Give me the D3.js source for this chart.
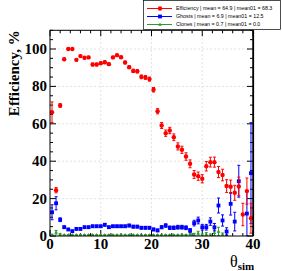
<!DOCTYPE html>
<html><head><meta charset="utf-8">
<script src="https://cdn.jsdelivr.net/npm/d3@7"></script>
<style>body{margin:0;background:#fff;overflow:hidden}</style></head>
<body>
<svg id="c" width="282" height="271"></svg>
<script>
const theta = [0.4,1.2,2.0,2.8,3.6,4.4,5.2,6.0,6.8,7.6,8.4,9.2,10.0,10.8,11.6,12.4,13.2,14.0,14.8,15.6,16.4,17.2,18.0,18.8,19.6,20.4,21.2,22.0,22.8,23.6,24.4,25.2,26.0,26.8,27.6,28.4,29.2,30.0,30.8,31.6,32.4,33.2,34.0,34.8,35.6,36.4,37.2,38.0,38.8,39.6];
const effVals = [66.2,24.5,69.8,94.5,100,100,94.2,96.2,95.3,95.5,91.7,91.7,92.4,92.9,91.9,95.5,96.7,95.6,92.8,90.3,88.3,88.1,85.1,84.8,83.9,78.2,66.7,59.1,55.0,56.4,52.8,47.9,46.1,42.5,38.6,32.9,32.0,30.6,37.3,39.5,39.5,34.2,32.6,26.7,26.3,23.1,26.5,11.5,24.0,9.5];
const effErr = [5.5,1.4,1.0,0.6,0.3,0.3,0.6,0.5,0.6,0.6,0.7,0.7,0.7,0.7,0.7,0.6,0.5,0.6,0.7,0.8,0.9,0.9,1.0,1.0,1.1,1.2,1.4,1.6,1.7,1.7,1.8,1.9,1.9,2.0,2.1,2.1,2.2,2.2,2.5,2.6,2.7,3.0,3.1,3.4,3.6,4.0,5.0,6.0,7.0,8.0];
const ghostTheta = [0.4,1.2,2.0,2.8,3.6,4.4,5.2,6.0,6.8,7.6,8.4,9.2,10.0,10.8,11.6,12.4,13.2,14.0,14.8,15.6,16.4,17.2,18.0,18.8,19.6,20.4,21.2,22.0,22.8,23.6,24.4,25.2,26.0,26.8,27.6,28.4,29.2,30.0,30.8,31.6,32.4,33.2,34.0,34.8,35.6,36.4,37.2,38.8,39.6];
const ghostVals = [12.7,17.5,8.7,4.7,3.5,2.6,3.8,3.8,4.7,4.7,5.2,5.2,5.2,6.0,4.7,5.2,5.2,5.2,5.2,5.6,5.0,5.0,4.4,4.4,4.4,3.5,3.0,4.7,5.6,4.4,4.4,4.7,4.7,4.4,3.0,6.9,8.3,4.7,4.7,7.7,4.7,16.3,8.3,2.4,17.2,7.7,29.3,12.0,33.6];
const ghostErr = [4.0,3.5,1.0,0.7,0.6,0.5,0.6,0.6,0.6,0.6,0.6,0.6,0.6,0.7,0.6,0.6,0.6,0.6,0.6,0.7,0.7,0.7,0.7,0.7,0.7,0.7,0.7,0.8,0.9,0.9,0.9,1.0,1.0,1.0,1.0,1.5,1.8,1.5,1.5,2.0,2.0,4.0,3.0,2.0,6.0,5.0,8.5,12.0,27.0];
const cloneTheta = [0.4,1.2,2.0,2.8,3.6,4.4,5.2,6.0,6.8,7.6,8.4,9.2,10.0,10.8,11.6,12.4,13.2,14.0,14.8,15.6,16.4,17.2,18.0,18.8,19.6,20.4,21.2,22.0,22.8,23.6,24.4,25.2,26.0,26.8,27.6,28.4,29.2,30.0,30.8,31.6,32.4,33.2,34.0,34.8];
const cloneVals = [0.6,2.0,0.8,0.5,0.5,0.5,0.5,0.5,0.5,0.5,0.5,0.5,0.5,0.5,0.5,0.5,0.5,0.5,0.5,0.5,0.5,0.5,0.5,0.5,0.5,0.5,0.5,0.5,0.5,0.5,0.5,0.5,0.5,0.5,1.2,0.8,1.5,0.5,1.0,0.5,1.8,2.5,0.8,1.0];
const cloneErr = [0.3,1.0,0.4,0.2,0.2,0.2,0.2,0.2,0.2,0.2,0.2,0.2,0.2,0.2,0.2,0.2,0.2,0.2,0.2,0.2,0.2,0.2,0.2,0.2,0.2,0.2,0.2,0.2,0.2,0.2,0.2,0.2,0.2,0.3,0.8,0.6,1.0,0.5,0.8,0.5,1.5,2.2,0.8,1.0];
const xTicks = [0,10,20,30,40];
const yTicks = [0,20,40,60,80,100];
const legendLabels = ["Efficiency | mean =  64.9 | mean01 =  68.3","Ghosts | mean =  6.9 | mean01 =  12.5","Clones | mean =  0.7 | mean01 =  0.0"];

const svg = d3.select("#c");
const L=50,R=253,T=30.3,B=236;
const x = d3.scaleLinear().domain([0,40]).range([L,R]);
const y = d3.scaleLinear().domain([0,110]).range([B,T]);
const red="#ff0000", blue="#0000ff", green="#2f9a2f";

// grid
const g = svg.append("g");
g.selectAll("line.gx").data(xTicks.slice(1,-1)).enter().append("line")
 .attr("x1",d=>x(d)).attr("x2",d=>x(d)).attr("y1",B).attr("y2",T)
 .attr("stroke","#dcdcdc").attr("stroke-width",0.8).attr("stroke-dasharray","2,2");
g.selectAll("line.gy").data(yTicks.slice(1)).enter().append("line")
 .attr("y1",d=>y(d)).attr("y2",d=>y(d)).attr("x1",L).attr("x2",R)
 .attr("stroke","#dcdcdc").attr("stroke-width",0.8).attr("stroke-dasharray","2,2");

// ticks
const tk = svg.append("g").attr("stroke","#000").attr("stroke-width",1);
const xMinor = d3.range(0,40.01,2), yMinor = d3.range(0,110.01,5);
xMinor.forEach(v=>{
  const len = (v%10===0)?6:3;
  tk.append("line").attr("x1",x(v)).attr("x2",x(v)).attr("y1",B).attr("y2",B-len);
  tk.append("line").attr("x1",x(v)).attr("x2",x(v)).attr("y1",T).attr("y2",T+len);
});
yMinor.forEach(v=>{
  const len = (v%20===0)?6:3;
  tk.append("line").attr("y1",y(v)).attr("y2",y(v)).attr("x1",L).attr("x2",L+len);
  tk.append("line").attr("y1",y(v)).attr("y2",y(v)).attr("x1",R).attr("x2",R-len);
});

// data
const clip = svg.append("clipPath").attr("id","pc").append("rect").attr("x",L).attr("y",T).attr("width",R-L).attr("height",B-T);
const dg = svg.append("g").attr("clip-path","url(#pc)");
function series(xs, vs, es, col, shape){
  const s = dg.append("g");
  xs.forEach((t,i)=>{
    const cx=x(t), cy=y(vs[i]), y1=y(vs[i]+es[i]), y2=y(Math.max(0,vs[i]-es[i]));
    s.append("line").attr("x1",cx).attr("x2",cx).attr("y1",y1).attr("y2",y2).attr("stroke",col).attr("stroke-width",1);
    s.append("line").attr("x1",cx-1.5).attr("x2",cx+1.5).attr("y1",y1).attr("y2",y1).attr("stroke",col).attr("stroke-width",1);
    s.append("line").attr("x1",cx-1.5).attr("x2",cx+1.5).attr("y1",y2).attr("y2",y2).attr("stroke",col).attr("stroke-width",1);
  });
  xs.forEach((t,i)=>drawMarker(s,x(t),y(vs[i]),col,shape));
}
function drawMarker(s,cx,cy,col,shape){
  if(shape==="circle") s.append("circle").attr("cx",cx).attr("cy",cy).attr("r",2.2).attr("fill",col);
  else if(shape==="square") s.append("rect").attr("x",cx-1.9).attr("y",cy-1.9).attr("width",3.8).attr("height",3.8).attr("fill",col);
  else s.append("path").attr("d",`M${cx},${cy-2}L${cx+1.8},${cy+1.3}L${cx-1.8},${cy+1.3}Z`).attr("fill",col);
}
series(cloneTheta, cloneVals, cloneErr, green, "tri");
series(ghostTheta, ghostVals, ghostErr, blue, "square");
series(theta, effVals, effErr, red, "circle");

// frame
svg.append("rect").attr("x",L).attr("y",T).attr("width",R-L).attr("height",B-T).attr("fill","none").attr("stroke","#000").attr("stroke-width",1);
svg.append("line").attr("x1",R+0.3).attr("x2",R+0.3).attr("y1",T).attr("y2",B).attr("stroke","#000").attr("stroke-width",1.6);

// tick labels
const font = "'Liberation Serif','DejaVu Serif',serif";
svg.selectAll("text.xl").data(xTicks).enter().append("text")
 .attr("x",d=>x(d)).attr("y",248.5).attr("text-anchor","middle")
 .attr("font-family",font).attr("font-weight","bold").attr("font-size",15).text(d=>d);
svg.selectAll("text.yl").data(yTicks).enter().append("text")
 .attr("x",47).attr("y",d=>y(d)+5).attr("text-anchor","end")
 .attr("font-family",font).attr("font-weight","bold").attr("font-size",15).text(d=>d);

// axis titles
svg.append("text").attr("transform",`translate(19,${T}) rotate(-90)`).attr("text-anchor","end")
 .attr("font-family",font).attr("font-weight","bold").attr("font-size",15).text("Efficiency, %");
const xt = svg.append("text").attr("x",230).attr("y",267).attr("font-family",font).attr("font-size",16);
xt.append("tspan").text("θ");
xt.append("tspan").attr("font-size",11).attr("font-weight","bold").attr("dy",3).text("sim");

// legend
const lg = svg.append("g");
lg.append("rect").attr("x",143.5).attr("y",0.5).attr("width",137).attr("height",29).attr("fill","#fff").attr("stroke","#000").attr("stroke-width",0.7);
const lcols=[red,blue,green], lshapes=["circle","square","tri"];
legendLabels.forEach((t,i)=>{
  const ly = 8.5+i*8;
  lg.append("line").attr("x1",147).attr("x2",172).attr("y1",ly).attr("y2",ly).attr("stroke",lcols[i]).attr("stroke-width",1);
  drawMarker(lg,160,ly,lcols[i],lshapes[i]);
  lg.append("text").attr("x",176).attr("y",ly+1.8).attr("font-family","'Liberation Sans',Arial,sans-serif").attr("font-size",5.3).attr("fill","#000").text(t);
});
</script>
</body></html>
